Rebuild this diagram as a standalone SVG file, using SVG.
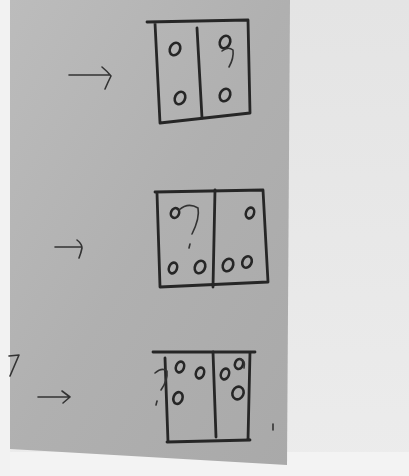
<svg xmlns="http://www.w3.org/2000/svg" width="409" height="476" viewBox="0 0 409 476">
<defs>
<linearGradient id="paper" x1="0" y1="0" x2="1" y2="1">
<stop offset="0" stop-color="#bcbcbc"/>
<stop offset="0.5" stop-color="#b0b0b0"/>
<stop offset="1" stop-color="#a9a9a9"/>
</linearGradient>
<linearGradient id="bg" x1="0" y1="0" x2="0" y2="1">
<stop offset="0" stop-color="#e4e4e4"/>
<stop offset="1" stop-color="#ececec"/>
</linearGradient>
<style>
.pen{fill:none;stroke:#262626;stroke-width:2.8;stroke-linecap:round;stroke-linejoin:round}
.thin{fill:none;stroke:#333;stroke-width:1.6;stroke-linecap:round;stroke-linejoin:round}
.dot{fill:none;stroke:#262626;stroke-width:2.6}
</style>
</defs>
<rect width="409" height="476" fill="url(#bg)"/>
<rect x="0" y="452" width="409" height="24" fill="#f3f3f3"/>
<polygon points="10,0 290,0 287,465 10,449" fill="url(#paper)"/>
<rect x="0" y="0" width="10" height="476" fill="#f2f2f2"/>

<g id="arrow1">
<path class="thin" d="M69,75 L110,75 M102,67 Q108,72 111,76 Q108,82 105,89"/>
</g>
<g id="arrow2">
<path class="thin" d="M55,247 L81,247 M77,240 Q82,244 82,248 Q81,253 79,258"/>
</g>
<g id="arrow3">
<path class="thin" d="M38,397 L69,397 M62,391 L70,397 L63,403"/>
</g>
<g id="mark7">
<path class="thin" d="M9,356 L19,355 L10,376"/>
</g>

<g id="box1">
<path class="pen" d="M147,22 L248,20 L250,113 L160,123 L155,23"/>
<path class="pen" d="M197,28 L202,118"/>
<ellipse class="dot" cx="175" cy="49" rx="5" ry="6.5" transform="rotate(25 175 49)"/>
<ellipse class="dot" cx="180" cy="98" rx="5" ry="6.5" transform="rotate(25 180 98)"/>
<ellipse class="dot" cx="225" cy="42" rx="5" ry="6.5" transform="rotate(25 225 42)"/>
<ellipse class="dot" cx="225" cy="95" rx="5" ry="6.5" transform="rotate(25 225 95)"/>
<path class="thin" d="M222,51 Q228,46 233,50 Q234,58 229,67"/>
</g>

<g id="box2">
<path class="pen" d="M155,192 L263,190 L268,282 L160,287 L157,193"/>
<path class="pen" d="M215,190 L213,287"/>
<ellipse class="dot" cx="175" cy="213" rx="4" ry="5" transform="rotate(25 175 213)"/>
<path class="thin" d="M179,210 Q188,202 198,208 Q200,218 192,234"/>
<path class="thin" d="M190,244 L189,248"/>
<ellipse class="dot" cx="250" cy="213" rx="4" ry="5.5" transform="rotate(20 250 213)"/>
<ellipse class="dot" cx="173" cy="268" rx="4" ry="5.5" transform="rotate(20 173 268)"/>
<ellipse class="dot" cx="200" cy="267" rx="5" ry="6.5" transform="rotate(25 200 267)"/>
<ellipse class="dot" cx="228" cy="265" rx="5" ry="6.5" transform="rotate(25 228 265)"/>
<ellipse class="dot" cx="247" cy="262" rx="4.5" ry="6" transform="rotate(25 247 262)"/>
</g>

<g id="box3">
<path class="pen" d="M153,352 L255,352 M165,358 L168,442 M167,442 L250,440 M250,352 L248,440"/>
<path class="pen" d="M213,352 L216,437"/>
<ellipse class="dot" cx="180" cy="367" rx="4" ry="5.5" transform="rotate(20 180 367)"/>
<ellipse class="dot" cx="200" cy="373" rx="4" ry="5.5" transform="rotate(20 200 373)"/>
<ellipse class="dot" cx="178" cy="398" rx="4.5" ry="6" transform="rotate(20 178 398)"/>
<ellipse class="dot" cx="225" cy="374" rx="4" ry="5.5" transform="rotate(20 225 374)"/>
<ellipse class="dot" cx="239" cy="364" rx="4" ry="5" transform="rotate(20 239 364)"/>
<path class="thin" d="M240,359 Q246,360 244,368"/>
<ellipse class="dot" cx="238" cy="393" rx="5.5" ry="6.5" transform="rotate(25 238 393)" stroke-width="3"/>
<path class="thin" d="M155,373 Q162,367 167,371 Q168,380 161,390"/>
<path class="thin" d="M157,401 L156,405"/>
<path class="thin" d="M273,424 L273,430" stroke="#777"/>
</g>
</svg>
